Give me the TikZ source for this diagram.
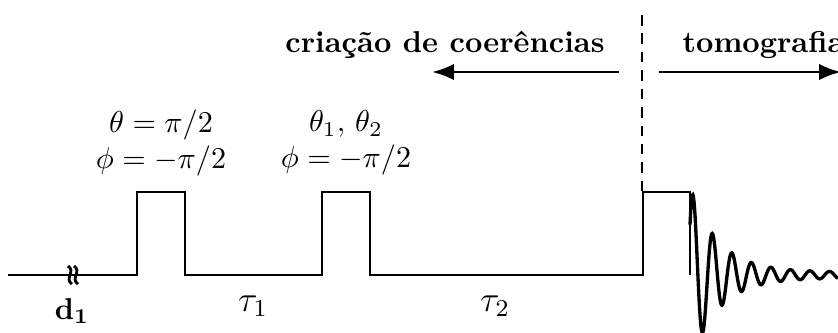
\documentclass[tikz,border=0pt]{standalone}
\usepackage{amsmath, amssymb}
\usetikzlibrary{positioning, calc, arrows.meta}
\tikzset{
    seqline/.style={line width=0.95pt, line join=miter, color=black},
    anglelabel/.style={align=center, font=\normalsize},
    stagelabel/.style={font=\bfseries, anchor=base},
    delaylabel/.style={font=\large},
    arrow/.style={-Latex, line width=0.95pt, color=black},
    divider/.style={line width=0.9pt, dash pattern=on 3.5pt off 2.6pt},
}

\begin{document}
\begin{tikzpicture}[x=0.01164cm, y=-0.01164cm]
                \useasboundingbox (0,0) rectangle (838,332);
                % pulse sequence
                \draw[seqline] (8,275) -- (137,275) -- (137,192) -- (185,192) -- (185,275)
                    -- (322,275) -- (322,192) -- (370,192) -- (370,275)
                    -- (643,275) -- (643,192) -- (690,192) -- (690,275);
                \foreach \bx in {70,76} \draw[seqline] (\bx-2,266) .. controls (\bx+6,271) and (\bx-6,279) .. (\bx+2,284);
                \draw[seqline, line width=1.1pt, smooth, samples=320, domain=0:148]
                    plot ({690+\x}, {275-(77*exp(-(\x-3)/28)+3)*cos(18.46*(\x-3))});
                
                % labels
                \node[anglelabel] (ang1) at (161,143) {$\theta = \pi/2$\\$\phi = -\pi/2$};
                \node[anglelabel] (ang2) at (346,143) {$\theta_1,\,\theta_2$\\$\phi = -\pi/2$};
                \node (d1) at (72,311) {$\mathbf{d_1}$};
                \node[delaylabel] (tau1) at (253,306) {$\tau_1$};
                \node[delaylabel] (tau2) at (495,306) {$\tau_2$};
                \node[stagelabel] (coh) at (445,52) {criação de coerências};
                \node[stagelabel, anchor=base west] (tomo) at (672,52) {tomografia};
                
                % stages
                \coordinate (divTop) at (642,15);
                \coordinate (divBot) at (642,192);
                \coordinate (cohTail) at (619,72);
                \coordinate (cohTip) at (432,72);
                \coordinate (tomoTail) at (659,72);
                \coordinate (tomoTip) at (841,72);
                \draw[divider] (divTop) -- (divBot);
                \draw[arrow] (cohTail) -- (cohTip);
                \draw[arrow] (tomoTail) -- (tomoTip);
            \end{tikzpicture}
\end{document}
